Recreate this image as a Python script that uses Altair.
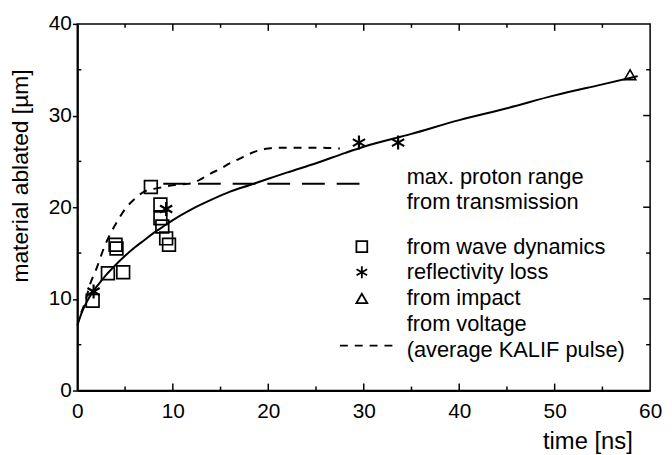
import altair as alt
import pandas as pd

# ---- data ----
square_x = [1.6, 3.2, 4.8, 4.1, 4.0, 7.7, 8.7, 8.7, 8.9, 9.3, 9.6]
square_y = [9.8, 12.8, 12.9, 15.5, 15.9, 22.2, 20.3, 18.8, 17.9, 16.6, 15.9]

star_x = [1.7, 9.3, 29.5, 33.6]
star_y = [10.8, 19.8, 27.05, 27.05]

tri_x = [57.9]
tri_y = [34.45]

fit_x = [0, 0.5, 1, 1.5, 2, 3, 4, 5, 6, 7, 8, 9, 10, 12, 14, 16, 18, 20, 22, 25, 28, 30, 35, 40, 45, 50, 55, 58.7]
fit_y = [7.1, 8.6, 9.7, 10.6, 11.3, 12.6, 13.7, 14.7, 15.6, 16.4, 17.2, 17.9, 18.6, 19.8, 20.8, 21.7, 22.4, 23.1, 23.8, 24.8, 25.9, 26.6, 28.0, 29.5, 30.8, 32.2, 33.4, 34.3]

volt_x = [0.4, 0.8, 1.3, 2.0, 2.8, 3.5, 4.2, 5.0, 6.0, 7.0, 8.0, 9.0, 10.0, 11.0, 12.0, 13.0, 14.0, 15.0, 16.0, 17.0, 18.0, 19.0, 20.0, 21.0, 23.0, 25.0, 27.5]
volt_y = [8.5, 9.6, 11.5, 13.3, 15.6, 17.2, 18.5, 19.8, 20.9, 21.7, 22.0, 22.2, 22.4, 22.5, 22.6, 23.1, 23.7, 24.2, 24.8, 25.3, 25.8, 26.2, 26.4, 26.5, 26.5, 26.5, 26.4]

proton_x = [9.0, 30.2]
proton_y = [22.55, 22.55]

legend_text = ["max. proton range", "from transmission", "from wave dynamics",
               "reflectivity loss", "from impact", "from voltage", "(average KALIF pulse)"]
legend_text_y = [23.25, 20.6, 15.7, 12.9, 10.05, 7.2, 4.45]
legend_text_x = 34.5
legend_sym_x = 29.8
legend_sym_y = [15.7, 12.9, 10.05]
legend_dash_x = [27.5, 33.4]
legend_dash_y = [4.9, 4.9]

x_ticks = [0, 10, 20, 30, 40, 50, 60]
y_ticks = [0, 10, 20, 30, 40]
x_major_in = [10, 20, 30, 40, 50]
x_minor_in = [5, 15, 25, 35, 45, 55]
y_major_in = [10, 20, 30]
y_minor_in = [5, 15, 25, 35]

W, H = 578, 370

xs = alt.Scale(domain=[0, 60], nice=False, zero=False)
ys = alt.Scale(domain=[0, 40], nice=False, zero=False)

STAR = "M0,-1L0,1M-0.87,-0.5L0.87,0.5M-0.87,0.5L0.87,-0.5"

xenc = alt.X("x:Q", scale=xs, axis=alt.Axis(
    values=x_ticks, title="time [ns]", labelFontSize=21, labelFont="Liberation Sans",
    labelColor="black", labelFlush=False, labelPadding=10, ticks=False, tickSize=0,
    grid=False, domainColor="black", domainWidth=2,
    titleFont="Liberation Sans", titleFontSize=24, titleFontWeight="normal",
    titleAlign="right", titleBaseline="middle", titleX=560, titleY=51, titleColor="black"))
yenc = alt.Y("y:Q", scale=ys, axis=alt.Axis(
    values=y_ticks, title="material ablated [µm]", labelFontSize=21, labelFont="Liberation Sans",
    labelColor="black", labelPadding=1, ticks=True, tickSize=5, tickColor="black", tickWidth=1.5,
    grid=False, domainColor="black", domainWidth=2,
    titleFont="Liberation Sans", titleFontSize=23, titleFontWeight="normal",
    titleAngle=-90, titleAlign="center", titleBaseline="middle", titleX=-57, titleY=153,
    titleColor="black"))

xq = alt.X("x:Q", scale=xs)
yq = alt.Y("y:Q", scale=ys)

fit_df = pd.DataFrame({"x": fit_x, "y": fit_y})
volt_df = pd.DataFrame({"x": volt_x, "y": volt_y})
prot_df = pd.DataFrame({"x": proton_x, "y": proton_y})
sq_df = pd.DataFrame({"x": square_x, "y": square_y})
st_df = pd.DataFrame({"x": star_x, "y": star_y})
tr_df = pd.DataFrame({"x": tri_x, "y": tri_y})

fit = alt.Chart(fit_df).mark_line(color="black", strokeWidth=2, interpolate="monotone").encode(x=xenc, y=yenc)
volt = alt.Chart(volt_df).mark_line(color="black", strokeWidth=2, strokeDash=[8, 7], interpolate="monotone").encode(x=xq, y=yq)
prot = alt.Chart(prot_df).mark_line(color="black", strokeWidth=2, strokeDash=[23, 12]).encode(x=xq, y=yq)
sq = alt.Chart(sq_df).mark_point(shape="square", size=165, filled=False, color="black", strokeWidth=1.7, opacity=1).encode(x=xq, y=yq)
st = alt.Chart(st_df).mark_point(shape=STAR, size=200, filled=False, color="black", strokeWidth=2.2, opacity=1).encode(x=xq, y=yq)
tr = alt.Chart(tr_df).mark_point(shape="triangle-up", size=130, filled=False, color="black", strokeWidth=1.6, opacity=1).encode(x=xq, y=yq)

# legend
leg_shapes = ["square", STAR, "triangle-up"]
leg_layers = []
for shp, yy in zip(leg_shapes, legend_sym_y):
    leg_layers.append(alt.Chart(pd.DataFrame({"x": [legend_sym_x], "y": [yy]})).mark_point(
        shape=shp, size=120 if shp != STAR else 150, filled=False, color="black",
        strokeWidth=1.8, opacity=1).encode(x=xq, y=yq))
leg_dash = alt.Chart(pd.DataFrame({"x": legend_dash_x, "y": legend_dash_y})).mark_line(
    color="black", strokeWidth=2, strokeDash=[8, 7]).encode(x=xq, y=yq)
leg_text = alt.Chart(pd.DataFrame({"x": [legend_text_x] * len(legend_text), "y": legend_text_y,
                                   "t": legend_text})).mark_text(
    align="left", baseline="middle", font="Liberation Sans", fontSize=22, color="black").encode(
    x=xq, y=yq, text="t:N")

# inward ticks
def vt(vals, top, ln, sw):
    df = pd.DataFrame({"x": vals})
    if top:
        return alt.Chart(df).mark_rule(color="black", strokeWidth=sw).encode(x=xq, y=alt.value(0), y2=alt.value(ln))
    return alt.Chart(df).mark_rule(color="black", strokeWidth=sw).encode(x=xq, y=alt.value(H), y2=alt.value(H - ln))

def ht(vals, right, ln, sw):
    df = pd.DataFrame({"y": vals})
    if right:
        return alt.Chart(df).mark_rule(color="black", strokeWidth=sw).encode(y=yq, x=alt.value(W), x2=alt.value(W - ln))
    return alt.Chart(df).mark_rule(color="black", strokeWidth=sw).encode(y=yq, x=alt.value(0), x2=alt.value(ln))

ticks = [vt(x_major_in, False, 7, 1.5), vt(x_minor_in, False, 4, 1.5),
         vt(x_major_in, True, 7, 1.5), vt(x_minor_in, True, 4, 1.5),
         ht(y_major_in, True, 7, 1.5), ht(y_minor_in, True, 4, 1.5),
         ht(y_minor_in, False, 4, 1.5)]

chart = alt.layer(fit, volt, prot, sq, st, tr, *leg_layers, leg_dash, leg_text, *ticks).properties(
    width=W, height=H,
    autosize=alt.AutoSizeParams(type="none"),
    padding={"left": 70, "top": 14, "right": 14, "bottom": 62},
    background="white",
).configure_view(stroke="black", strokeWidth=1.5)

chart.save("out.html", embed_options={"renderer": "svg", "actions": False})
